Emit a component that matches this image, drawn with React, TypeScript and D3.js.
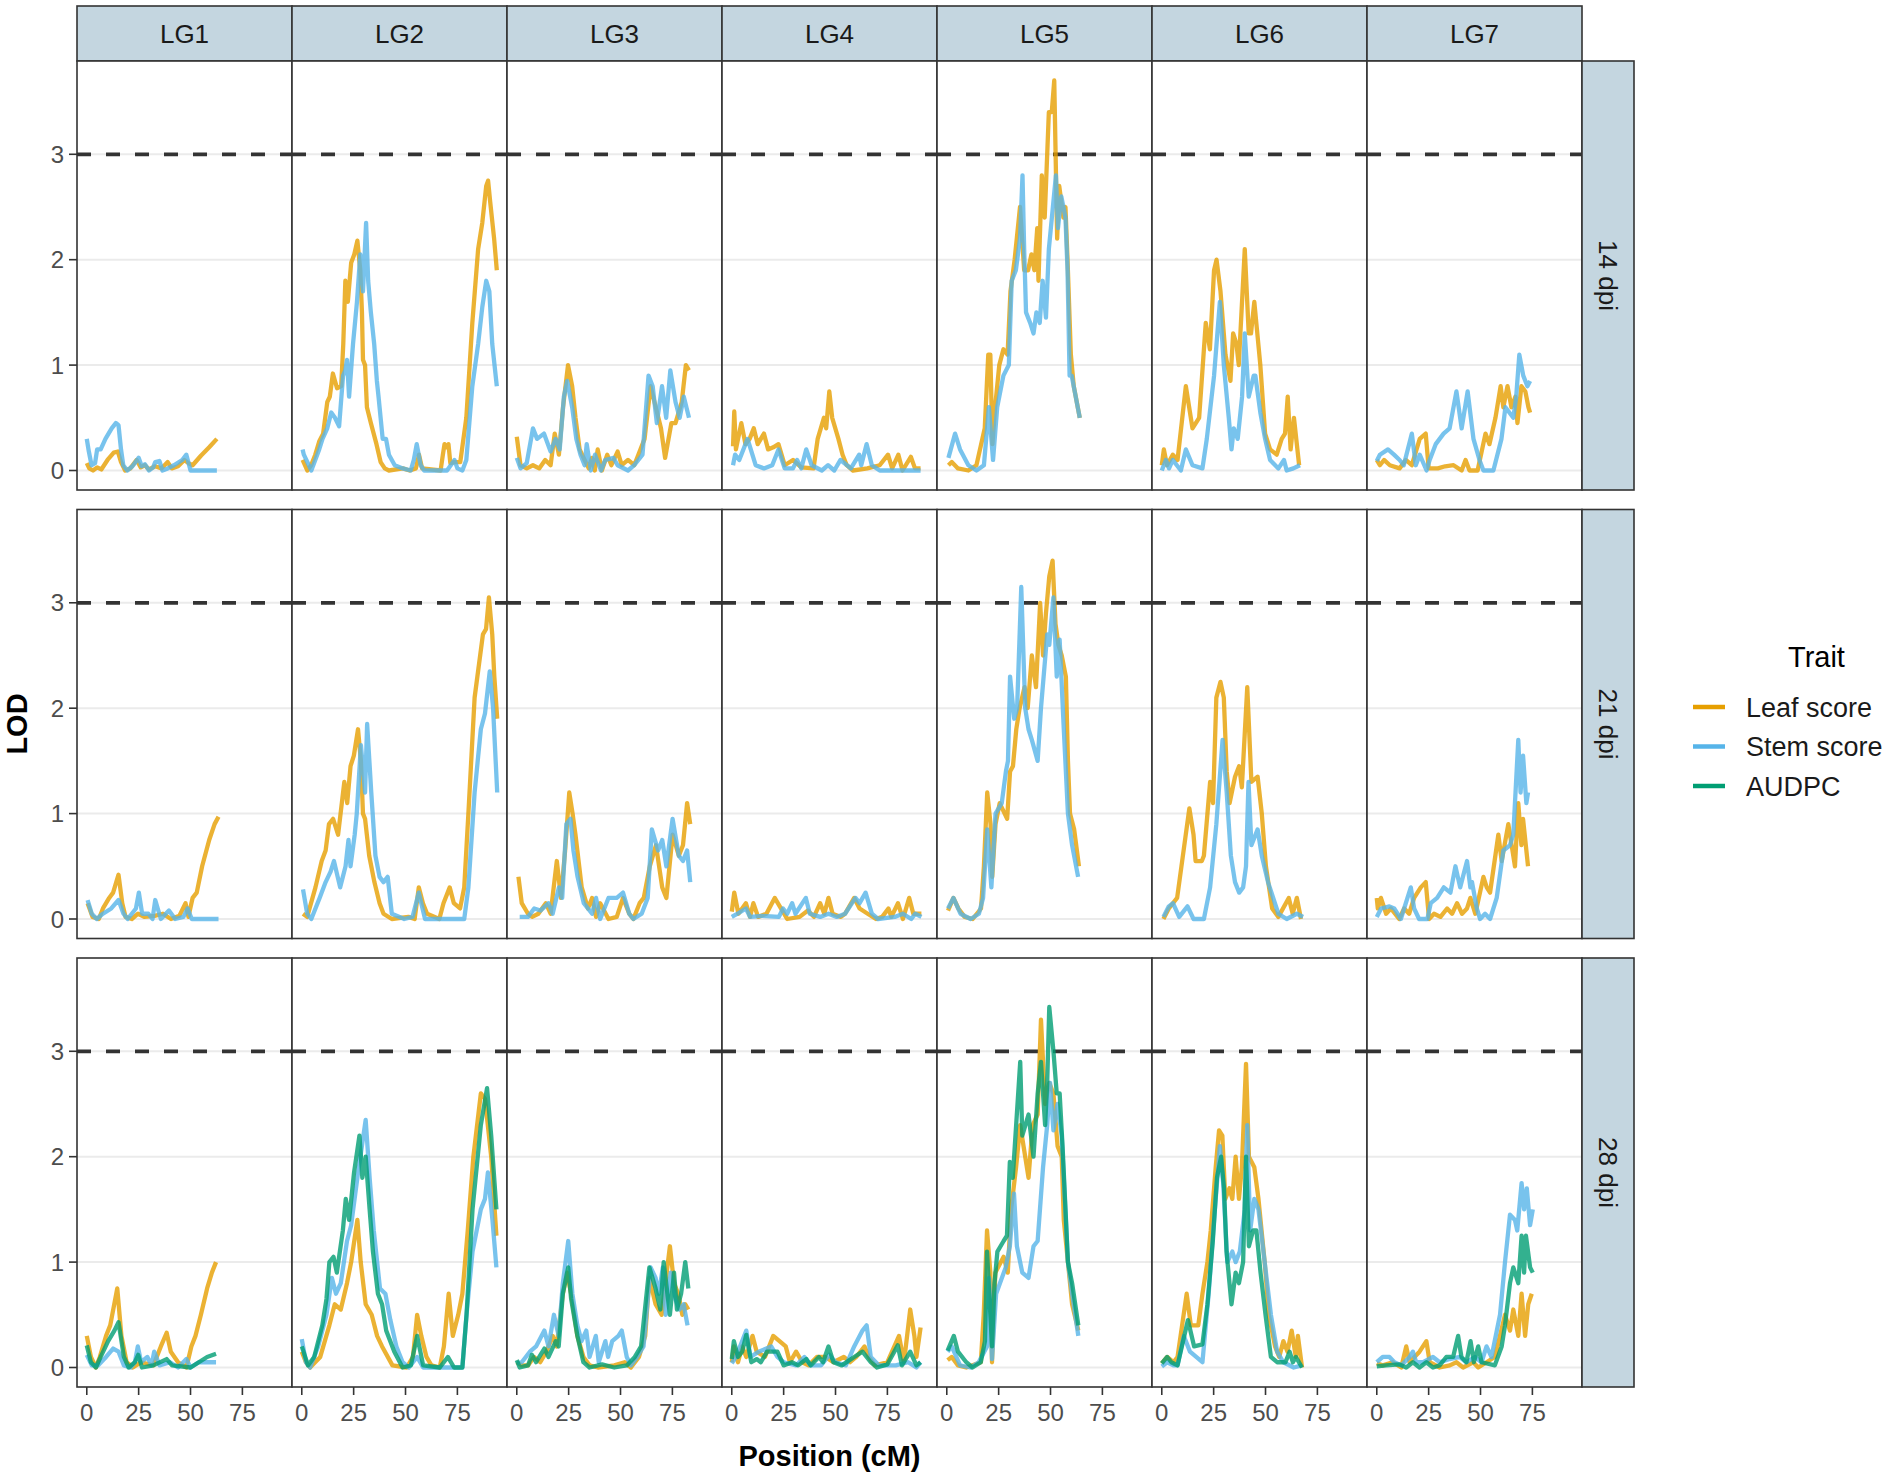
import * as d3 from 'd3';

type Pt = [number, number];

const linkageGroups = ['LG1', 'LG2', 'LG3', 'LG4', 'LG5', 'LG6', 'LG7'];
const timepoints = ['14 dpi', '21 dpi', '28 dpi'];
const traitNames = ['Leaf score', 'Stem score', 'AUDPC'];
const traitColors = ['#E69F00', '#56B4E9', '#009E73'];
const lodBreaks = [0, 1, 2, 3];
const posBreaks = [0, 25, 50, 75];
const lodThreshold = 3;

// LOD profiles, one sub-array per linkage group: [position cM, LOD]
const leaf14: Pt[][] = [
  [[0,0.07],[1.2,0.02],[3,0],[5,0.03],[7,0.01],[10,0.1],[13,0.17],[15,0.18],[16.5,0.08],[18.5,0],[21,0.02],[24,0.1],[26,0.03],[28,0.05],[30,0.01],[33,0.04],[36,0.02],[39,0.08],[41,0.02],[44,0.04],[47,0.1],[49,0.07],[51,0.05],[55,0.14],[59,0.22],[62.7,0.3]],
  [[0.4,0.1],[2.7,0],[4.5,0.05],[6.5,0.15],[8.5,0.28],[10.3,0.35],[12.3,0.65],[13.5,0.7],[15,0.92],[17,0.78],[19,0.8],[20,1.2],[21,1.8],[22.2,1.6],[23.8,1.97],[25.3,2.05],[26.8,2.18],[28.2,1.9],[29,1.5],[29.5,1.05],[30.5,1.0],[31.4,0.6],[33.3,0.45],[36,0.25],[38,0.08],[40,0.02],[42,0],[48.7,0.02],[52,0],[55,0.02],[56.5,0.15],[58,0.02],[66.9,0],[68,0.15],[68.8,0.25],[69.7,0.22],[70.7,0.25],[71.6,0.07],[73.5,0.08],[76.4,0.08],[79.3,0.5],[82.2,1.4],[85,2.1],[87,2.35],[88.9,2.7],[89.8,2.75],[90.8,2.55],[92.7,2.2],[94,1.9]],
  [[0,0.32],[1.8,0.05],[4.8,0.02],[7.8,0.05],[10.8,0.02],[13.7,0.1],[16.3,0.05],[18.3,0.35],[20.3,0.15],[22.3,0.6],[24.7,1.0],[26.7,0.8],[28.3,0.5],[30.3,0.2],[32.7,0.1],[34.7,0.02],[36.2,0.12],[37.6,0],[39,0.2],[41,0],[43.6,0.15],[45.6,0.05],[48.6,0.18],[50.6,0.05],[53.6,0.1],[56.6,0.05],[58.6,0.15],[61.6,0.3],[64.5,0.8],[67,0.6],[69.5,0.4],[71.5,0.12],[74.5,0.45],[76.5,0.45],[79.5,0.65],[81.5,1.0],[83,0.95]],
  [[0.6,0.23],[1.2,0.56],[2,0.2],[4.6,0.45],[6.6,0.25],[8.6,0.3],[10.6,0.4],[12.5,0.25],[15.5,0.35],[17.5,0.2],[20,0.22],[22.5,0.25],[25.5,0.05],[29.5,0.1],[33.5,0.03],[39.4,0.02],[41.4,0.3],[44.4,0.5],[45.5,0.4],[47,0.75],[48.4,0.5],[51.4,0.3],[53.4,0.15],[55.4,0.05],[58.4,0],[65.3,0.02],[71.3,0.05],[75.3,0.15],[77.3,0.02],[80.3,0.15],[82.3,0],[86.3,0.13],[88.3,0.02],[91,0.02]],
  [[0.8,0.05],[2.4,0.08],[5.4,0.02],[10.4,0],[14.3,0.05],[18.3,0.4],[20,1.1],[21,1.1],[22,0.25],[23.3,0.6],[25.3,1.0],[27.3,1.15],[29.3,1.1],[30.7,1.7],[32.7,2.0],[35.3,2.5],[37.3,1.9],[39.2,1.9],[40.8,2.05],[42.2,1.9],[43.6,2.3],[44.2,1.8],[45.8,2.8],[47.2,2.4],[49.2,3.4],[50.6,3.4],[51.8,3.7],[53.2,2.2],[54.2,2.7],[56.2,2.4],[57.2,2.5],[58.2,2.0],[59.8,1.1],[61.2,0.8],[64.1,0.5]],
  [[0,0.05],[1,0.2],[2.5,0.05],[5.3,0.15],[7.6,0.1],[11.6,0.8],[14.8,0.4],[18,0.5],[21.2,1.4],[23.2,1.15],[25.2,1.9],[26.4,2.0],[28.3,1.7],[30.7,1.1],[33.1,0.85],[34.4,1.3],[36,1.2],[37.1,1.0],[40,2.1],[41.9,1.3],[43,1.3],[44.6,1.6],[47.5,1.0],[49.8,0.35],[52.2,0.2],[55.4,0.15],[57.8,0.3],[59.4,0.35],[60.7,0.7],[62.1,0.2],[63.7,0.5],[66.2,0.05]],
  [[0,0.1],[1.5,0.05],[3.5,0.1],[6.3,0.05],[11,0.02],[14,0.1],[16.9,0.05],[20.7,0.3],[23.6,0.35],[25,0.02],[29.4,0.02],[33,0.04],[37,0.05],[40.9,0],[42.8,0.1],[44.7,0],[48.6,0],[52.4,0.35],[54.3,0.25],[57.2,0.5],[59.7,0.8],[61,0.6],[63,0.8],[64.9,0.6],[66.8,0.7],[67.8,0.45],[69.7,0.8],[71.6,0.75],[73.1,0.6],[73.9,0.55]],
];

const stem14: Pt[][] = [
  [[0,0.3],[1,0.18],[2.3,0.05],[4,0.07],[5,0.2],[6.7,0.2],[9,0.3],[12,0.4],[14,0.45],[15.3,0.43],[16.5,0.2],[17.6,0.05],[19.5,0],[22,0.04],[25,0.12],[26.5,0.04],[28,0.06],[30,0],[32,0.03],[33,0.08],[35,0.09],[36.5,0],[39,0.02],[42,0.05],[46,0.1],[48,0.15],[50,0],[55,0],[62.7,0]],
  [[0.4,0.2],[1,0.15],[4.6,0],[8.4,0.2],[10,0.3],[12.3,0.4],[14.2,0.55],[16,0.5],[18,0.42],[19.9,0.9],[21,0.95],[21.8,1.05],[22.8,0.7],[24.7,1.2],[26.6,1.6],[28.2,2.05],[29.5,1.7],[31,2.35],[32,1.8],[33.3,1.5],[34.9,1.2],[36.2,0.85],[37,0.7],[39,0.3],[40.6,0.3],[42,0.15],[44.8,0.05],[48.7,0.02],[52.5,0],[54,0.1],[55.4,0.25],[57.3,0.05],[59,0],[70,0],[73.6,0.1],[75,0.02],[77.4,0],[79.3,0.1],[82.2,0.8],[85,1.2],[87,1.55],[88.9,1.8],[90.4,1.7],[91.8,1.2],[94,0.8]],
  [[0,0.12],[1.8,0.02],[4.8,0.07],[7.8,0.4],[9.8,0.3],[13.1,0.35],[16.3,0.18],[18.7,0.3],[20.7,0.2],[22.7,0.7],[24.3,0.85],[26.7,0.6],[28.7,0.3],[30.7,0.15],[32.7,0.05],[33.7,0.25],[35.7,0],[37.7,0.15],[40.6,0],[42.6,0.1],[46.6,0.12],[48.6,0.05],[53.6,0],[56.6,0.05],[60.6,0.15],[63.5,0.9],[65.5,0.8],[67.5,0.45],[70,0.8],[72,0.5],[74,0.95],[76.5,0.65],[78.5,0.5],[80.5,0.7],[83,0.5]],
  [[0.6,0.05],[1.6,0.15],[3.6,0.1],[7.6,0.3],[11.5,0.05],[15.5,0.02],[19.5,0.05],[22.5,0.2],[25.5,0.02],[29.5,0.02],[31.5,0.1],[33.5,0.02],[35.9,0.2],[38.5,0.05],[43.4,0],[46.4,0.05],[49.4,0],[52.4,0.1],[57.4,0.02],[61.4,0.15],[62.4,0.05],[65,0.25],[67.5,0.05],[71.3,0],[91,0]],
  [[0.8,0.12],[4,0.35],[6.4,0.2],[10.4,0.05],[14.3,0],[17.9,0.05],[20.3,0.6],[22.3,0.1],[24.3,0.6],[27.3,0.9],[29.9,1.0],[31.3,1.8],[33.3,1.9],[35.3,2.2],[36.5,2.8],[37.3,2.1],[38.2,1.5],[40.2,1.4],[41.8,1.3],[43.2,1.5],[44.8,1.4],[46.2,1.8],[47.8,1.45],[49.2,2.1],[52.6,2.8],[53.6,2.3],[55.2,2.6],[57.2,2.4],[58.2,1.9],[59.2,0.9],[60.2,0.9],[64.1,0.5]],
  [[0,0],[2,0.1],[3.5,0.02],[5.3,0.1],[9.2,0],[11.6,0.2],[14.8,0.05],[19.6,0.02],[21.7,0.3],[25.2,0.9],[26.8,1.3],[28,1.6],[29.9,1.0],[32.3,0.5],[33.6,0.2],[34.7,0.4],[36.6,0.3],[38.7,0.7],[40,1.3],[41.9,0.7],[44.3,0.9],[45.1,0.9],[47.5,0.55],[49.8,0.3],[52.2,0.1],[56.2,0.02],[58.9,0.1],[60.2,0],[63.4,0.02],[66.6,0.05]],
  [[0,0.09],[1.5,0.15],[5.4,0.2],[8.3,0.15],[11,0.1],[13,0.05],[16.9,0.35],[18.8,0.05],[20.7,0.15],[24,0],[25.5,0.1],[28.4,0.25],[32.2,0.35],[35.1,0.4],[38.4,0.75],[40.9,0.4],[43.8,0.75],[46.6,0.3],[49.5,0.1],[51.4,0],[56.2,0],[60.1,0.3],[62,0.6],[65.8,0.5],[67.2,0.7],[68.7,1.1],[70.6,0.9],[72.6,0.8],[73.9,0.85]],
];

const leaf21: Pt[][] = [
  [[0.4,0.15],[2.8,0.02],[5.8,0],[7.8,0.1],[10.8,0.2],[12.7,0.25],[15.3,0.42],[17.1,0.15],[18.7,0.02],[21.7,0],[24.7,0.05],[27.7,0.02],[32.7,0.03],[36.7,0.05],[40.6,0],[44.6,0.03],[47.6,0.15],[49,0.02],[51,0.2],[53,0.25],[55.6,0.5],[59,0.75],[61.6,0.9],[63.5,0.97]],
  [[0.6,0.05],[2.6,0.02],[6.6,0.3],[9.6,0.55],[11.5,0.65],[13.1,0.9],[15.1,0.95],[17.5,0.8],[20.5,1.3],[21.9,1.1],[23.5,1.45],[25.1,1.55],[27.1,1.8],[28.5,1.5],[29.5,1.0],[30.5,0.95],[32.5,0.6],[35,0.35],[37.5,0.15],[39.4,0.05],[43.4,0],[51.4,0.02],[54.4,0],[56.4,0.3],[58.4,0.15],[60.4,0.05],[66.3,0],[68.3,0.15],[71.3,0.3],[73.3,0.15],[76.3,0.1],[78.3,0.3],[80.3,1.0],[83.3,2.1],[87.3,2.7],[88.8,2.75],[90.2,3.05],[91.8,2.7],[92.8,2.3],[94.2,1.9]],
  [[0.8,0.4],[2.4,0.15],[5.4,0.05],[7.4,0.02],[10.4,0.05],[14,0.15],[16.3,0.05],[19.3,0.55],[21.3,0.2],[23.3,0.65],[25.3,1.2],[26.9,1.0],[28.3,0.8],[31.3,0.3],[34.3,0.1],[36.3,0.2],[38.2,0.02],[40.2,0.15],[44.2,0],[48.2,0.02],[51.2,0.2],[54.2,0.05],[56.2,0],[59.2,0.15],[61.2,0.2],[64.1,0.5],[67.1,0.7],[70.1,0.3],[72.1,0.2],[75.1,0.8],[78.1,0.6],[80.1,0.7],[82.1,1.1],[83.6,0.9]],
  [[0,0.07],[1.2,0.25],[3.2,0.05],[6.8,0.15],[8.8,0.02],[10.4,0.15],[12.7,0.02],[16.7,0.05],[20.7,0.2],[23.7,0.1],[26.7,0],[32.7,0.02],[36.7,0.08],[39.6,0.02],[42.6,0.15],[44.6,0.05],[46.6,0.2],[48.6,0.05],[52.6,0.02],[54.6,0.05],[59,0.2],[61.6,0.1],[65.5,0.05],[69.5,0],[72.5,0.02],[75.5,0.1],[76.9,0.02],[80.1,0.15],[82.5,0],[85.5,0.2],[87.5,0.05],[91.4,0.05]],
  [[0.6,0.08],[3.2,0.2],[5.6,0.1],[8.6,0.02],[12.5,0],[16.5,0.1],[17.9,0.5],[19.5,1.2],[21.1,0.9],[21.9,0.4],[23.5,0.9],[25.5,1.1],[29.1,0.95],[30.5,1.4],[31.9,1.45],[33.5,1.8],[35.1,2.0],[37.5,2.2],[39,2.0],[41,2.5],[43,2.2],[45,3.0],[46.4,2.5],[47.8,2.9],[49.4,3.25],[51,3.4],[52.4,2.8],[53.8,2.6],[55.4,2.5],[57.4,2.3],[58.4,1.5],[59.4,1.0],[61.4,0.85],[63.7,0.5]],
  [[0.8,0],[3.4,0.1],[7.4,0.2],[13.3,1.05],[15.3,0.8],[16.3,0.55],[19.3,0.55],[20.3,0.6],[23.3,1.3],[24.7,1.1],[26.3,2.1],[28.3,2.25],[29.9,2.1],[31.3,1.4],[32.7,1.1],[35.3,1.35],[37.3,1.45],[38.6,1.25],[41.2,2.2],[43.2,1.3],[46.2,1.35],[48.2,1.0],[50.2,0.5],[53.2,0.1],[56.2,0.02],[61.2,0.2],[63.1,0.05],[65.1,0.2],[67.1,0]],
  [[0,0.2],[0.5,0.1],[2,0.2],[4.5,0.05],[6.8,0.1],[10.8,0],[13.2,0.1],[15.6,0.05],[18,0.2],[21.2,0.3],[23.6,0.35],[25.2,0],[27.6,0.05],[30.7,0.02],[33.9,0.1],[36.3,0.05],[38.7,0.15],[41.1,0.05],[43.5,0.1],[45.1,0.2],[47.5,0.05],[51.4,0.4],[53,0.3],[54.6,0.25],[58.6,0.8],[60.2,0.55],[63.4,0.9],[65,0.7],[66.6,0.5],[68.2,1.1],[69.7,0.7],[70.5,0.95],[72.9,0.5]],
];

const stem21: Pt[][] = [
  [[0.4,0.18],[2.4,0.05],[4.8,0],[7.8,0.05],[11.8,0.1],[15.3,0.18],[17.7,0.05],[19.7,0],[23.7,0.1],[25.1,0.25],[26.7,0.05],[29.7,0.05],[31.7,0],[33,0.18],[35.7,0],[39.6,0.08],[42.6,0],[46.6,0.02],[48.6,0.1],[50.6,0],[63.5,0]],
  [[0.6,0.28],[2.6,0.05],[4.6,0],[8.6,0.2],[11.5,0.35],[13.9,0.45],[15.5,0.55],[18.5,0.3],[21.1,0.5],[22.5,0.75],[23.5,0.5],[25.5,0.8],[26.5,1.0],[28.5,1.65],[30.5,1.2],[31.5,1.85],[33.5,1.2],[35.5,0.6],[37.5,0.4],[39.4,0.35],[41.4,0.4],[43.4,0.05],[49.4,0],[53.4,0.02],[56.4,0.25],[59.4,0],[78.3,0],[80.3,0.3],[83.3,1.2],[86.3,1.8],[88.3,1.95],[90.6,2.35],[92.2,2.0],[94.2,1.2]],
  [[1.4,0.02],[5.4,0.02],[8.4,0.1],[11.4,0.08],[15.3,0.15],[17.3,0.05],[20.3,0.3],[21.9,0.2],[23.9,0.9],[25.9,0.95],[27.3,0.65],[29.3,0.4],[32.3,0.15],[36.3,0.05],[38.2,0.2],[40.2,0],[44.2,0.2],[48.2,0.2],[51.2,0.25],[54.2,0.05],[56.2,0],[60.2,0.05],[63.1,0.2],[65.1,0.85],[68.1,0.65],[70.1,0.75],[72.1,0.5],[75.1,0.95],[78.1,0.6],[80.1,0.55],[82.1,0.65],[83.6,0.35]],
  [[0,0.02],[2.8,0.05],[6.8,0.1],[8.8,0.02],[14.7,0.03],[22.7,0.02],[24.7,0.1],[26.7,0.05],[29.1,0.15],[30.7,0.05],[35.7,0.2],[37.6,0.05],[42.6,0.02],[46.6,0.05],[50.6,0.02],[54.6,0.05],[59.6,0.2],[61.6,0.15],[64.5,0.25],[67.5,0.05],[70.5,0],[78.5,0.02],[82.5,0.05],[86.5,0],[88.4,0.05],[91.4,0.02]],
  [[0.6,0.1],[3.2,0.2],[6.6,0.05],[11.5,0],[15.5,0.05],[17.5,0.2],[19.5,0.85],[21.5,0.3],[23.5,1.0],[26.5,1.1],[28.5,1.4],[29.5,1.5],[30.5,2.3],[32.5,1.9],[33.9,2.0],[35.9,3.15],[37.8,2.0],[39.4,1.8],[41,1.7],[43.8,1.5],[45.4,2.0],[48.4,2.7],[49.4,2.6],[51.4,3.05],[53,2.3],[54.4,2.65],[56.4,1.8],[58.4,1.0],[60.4,0.7],[63.3,0.4]],
  [[0.8,0.02],[3.4,0.12],[5.4,0.15],[8.4,0.02],[12.4,0.12],[15.3,0],[20.3,0],[23.3,0.3],[26.3,0.9],[29.3,1.7],[31.3,1.2],[33.3,0.6],[35.3,0.35],[37.3,0.25],[39.2,0.3],[40.6,0.5],[41.8,1.3],[43.2,0.7],[46.2,0.85],[48.2,0.6],[51.2,0.35],[56.2,0.05],[60.2,0],[65.1,0.05],[68.1,0.02]],
  [[0,0.02],[2.1,0.1],[6.1,0.12],[8.4,0.1],[11.6,0],[14.8,0.2],[16.4,0.3],[18,0.1],[20.4,0],[24.4,0],[26,0.15],[29.1,0.2],[32.3,0.3],[35.5,0.25],[37.9,0.5],[40.2,0.3],[43.5,0.55],[45.1,0.3],[45.9,0.35],[48.2,0.1],[49.8,0],[52.2,0.05],[54.6,0],[57.8,0.2],[61,0.65],[64.2,0.7],[65.8,0.8],[68.2,1.7],[69.3,1.2],[70.5,1.55],[72.1,1.1],[72.9,1.2]],
];

const leaf28: Pt[][] = [
  [[0,0.3],[2,0.1],[4.4,0],[6.3,0.1],[9.3,0.3],[11.3,0.4],[14.7,0.75],[16.7,0.3],[19.2,0.05],[22.2,0],[26.2,0.05],[32.1,0.02],[35.7,0.2],[38.5,0.33],[40.5,0.15],[44,0.05],[48,0],[50.4,0.2],[52.4,0.3],[55,0.5],[58,0.75],[60.3,0.9],[62.3,1.0]],
  [[0,0.15],[2,0.05],[4,0],[8.9,0.1],[13.3,0.4],[15.9,0.6],[18.8,0.55],[21.8,0.8],[23.8,1.0],[26.8,1.4],[28.4,1.0],[30.8,0.6],[33.7,0.5],[36.3,0.3],[38.7,0.2],[43.7,0.02],[50.6,0],[53.6,0.1],[55.6,0.5],[57.6,0.3],[60.1,0.1],[62.5,0.02],[66.5,0],[68.5,0.2],[70.8,0.7],[72.8,0.3],[75.4,0.5],[77.4,0.7],[80,1.3],[82.7,2.0],[86.3,2.6],[88.3,2.55],[91.3,2.0],[93.8,1.25]],
  [[0,0.05],[2.4,0.02],[5.4,0.02],[8.3,0.1],[11.3,0.05],[14.3,0.15],[17.3,0.3],[19.2,0.2],[22.2,0.7],[24.2,0.9],[26.2,0.7],[29.2,0.3],[32.1,0.1],[35.1,0.02],[39.1,0],[47,0.02],[52,0.05],[55,0],[58.9,0.1],[61.9,0.3],[63.9,0.85],[66.9,0.6],[69.8,0.5],[73.8,1.15],[75.8,0.8],[77.8,0.7],[79.8,0.5],[81.2,0.6],[82.7,0.55]],
  [[0,0.05],[1,0.2],[3,0.05],[5,0.2],[7,0.1],[10,0.3],[12,0.15],[16,0.1],[20,0.3],[23,0.25],[26,0.2],[28,0.05],[31,0.15],[34,0.05],[37,0.02],[41,0.1],[45,0.1],[49,0.05],[54,0.1],[57,0.05],[60,0.1],[64,0.2],[66,0.1],[69,0.02],[75,0.05],[80.6,0.3],[83,0.05],[86,0.55],[88,0.3],[89,0.1],[91,0.38]],
  [[0.4,0.07],[2.4,0.1],[5.4,0.02],[9.4,0],[16.4,0.05],[17.8,0.5],[19.4,1.3],[21,0.9],[21.8,0.05],[23.4,0.9],[27.4,1.05],[29.4,0.9],[31,1.5],[33.4,1.9],[35.4,2.3],[37.4,2.05],[39.4,1.8],[41.4,2.3],[43.8,2.4],[45.4,3.3],[47.4,2.5],[49.4,2.7],[51.4,2.6],[53.4,2.1],[55.4,2.0],[56.4,1.4],[58.4,1.0],[60.4,0.6],[63.4,0.35]],
  [[0,0.04],[2.6,0.1],[5.6,0.05],[7.6,0.1],[12,0.7],[14,0.4],[17.6,0.4],[19.6,0.7],[22,1.0],[23.6,1.3],[26,1.9],[27.6,2.25],[29.2,2.2],[30.6,1.6],[32.6,1.7],[34,1.6],[35.6,2.0],[37.2,1.6],[38.6,1.9],[40.6,2.88],[42,2.0],[44.6,1.9],[46.6,1.6],[49.6,1.0],[51.6,0.5],[54.6,0.2],[56.6,0.1],[58.6,0.25],[60.6,0.15],[62.6,0.35],[64.6,0.1],[65.6,0.3],[67.6,0]],
  [[0,0.04],[2.9,0.02],[7.7,0.05],[11.8,0],[14.2,0.2],[15.8,0.05],[18.2,0.1],[20.6,0.15],[23.9,0.25],[25.5,0.05],[30.3,0],[35.2,0.02],[38.4,0.05],[41.6,0],[46.5,0.05],[48.9,0],[52.9,0.05],[56.9,0.1],[59.4,0.3],[61.8,0.5],[64.2,0.35],[65.8,0.55],[68.2,0.3],[69.8,0.7],[71.5,0.3],[73,0.6],[74.7,0.7]],
];

const stem28: Pt[][] = [
  [[0,0.12],[2.4,0.02],[5.4,0.02],[9.3,0.1],[12.7,0.18],[15.3,0.15],[17.9,0.02],[21.2,0],[23.2,0.05],[24.6,0.2],[26.2,0.05],[29.2,0.1],[31.2,0.02],[32.5,0.15],[35.1,0.02],[40.1,0.05],[44,0],[48,0.08],[50,0],[54,0.05],[62.3,0.05]],
  [[0,0.27],[2,0.05],[4,0],[7.9,0.2],[11.9,0.5],[14.5,0.85],[16.5,0.7],[18.8,0.8],[21.8,1.2],[23.8,1.35],[26.8,1.8],[30.8,2.35],[32.7,1.8],[34.7,1.3],[37.7,0.75],[40.3,0.7],[42.7,0.45],[45.6,0.2],[48.6,0.05],[51.6,0],[55.6,0.1],[58.5,0],[77.4,0],[79.4,0.5],[82.3,1.1],[86.3,1.5],[88.3,1.6],[89.7,1.85],[91.9,1.4],[93.8,0.95]],
  [[0,0.04],[2.4,0.05],[6.3,0.15],[9.3,0.2],[13.3,0.35],[15.3,0.2],[17.9,0.5],[20.2,0.3],[22.2,0.8],[24.8,1.2],[26.8,0.7],[29.2,0.4],[31.2,0.25],[33.5,0.35],[35.1,0.1],[38.1,0.3],[39.5,0.05],[42.7,0.25],[44,0.1],[46,0.25],[49,0.3],[50.6,0.35],[53,0.1],[55,0.02],[58,0.1],[61.1,0.2],[64.5,0.95],[66.9,0.85],[68.5,0.7],[70.4,0.95],[71.8,0.5],[74.2,0.9],[76.4,0.65],[78.4,0.55],[80.4,0.6],[82.3,0.4]],
  [[0,0.04],[2,0.1],[7,0.35],[9,0.1],[13,0.15],[19,0.2],[22,0.1],[25,0.05],[31,0.02],[35,0.1],[38,0.02],[43,0.02],[47,0.12],[50,0.05],[55,0.02],[59,0.2],[63,0.35],[65,0.4],[67,0.1],[71,0.02],[79,0.02],[85,0.05],[89,0],[91,0.05]],
  [[0.4,0.15],[2.4,0.2],[6.4,0.02],[11.4,0],[15.4,0.05],[19.4,0.2],[20.4,0.85],[21.8,0.08],[23.8,0.7],[28.4,0.95],[30.4,1.15],[32.4,1.65],[33.8,1.15],[36.4,0.9],[39.4,0.85],[41.8,1.15],[43.8,1.2],[46.4,1.9],[48.4,2.3],[49.8,2.7],[51.4,2.25],[53.4,2.5],[55.4,2.2],[57.4,1.4],[58.4,1.0],[60.4,0.7],[63.4,0.3]],
  [[0,0.01],[2.6,0.05],[5.6,0.02],[7.6,0.02],[10.6,0.3],[13.6,0.15],[19.6,0.05],[22.6,0.7],[25.6,1.5],[28,2.1],[29.6,1.75],[31.6,1.0],[34,1.1],[35.6,1.0],[37.6,1.1],[40,1.5],[41.2,2.3],[42.6,1.3],[44.6,1.6],[46.6,1.5],[49.6,1.0],[52.6,0.5],[55.6,0.15],[58.6,0.05],[63.6,0],[67.6,0.02]],
  [[0,0.05],[2.9,0.1],[6.1,0.1],[8.5,0.05],[11.8,0.02],[15.8,0.1],[17.4,0.15],[19,0.05],[22.3,0.05],[27.1,0.1],[30.3,0.05],[35.2,0.08],[40,0.1],[43.2,0.05],[47.3,0.1],[50.5,0.05],[52.9,0.2],[55.3,0.1],[59.4,0.5],[61.8,1.0],[64.2,1.45],[66.6,1.4],[67.7,1.3],[69.8,1.75],[71,1.5],[72.3,1.7],[73.9,1.35],[75.2,1.5]],
];

const audpc28: Pt[][] = [
  [[0,0.21],[2,0.05],[4.4,0],[6.7,0.1],[10.3,0.25],[13.3,0.35],[15.3,0.43],[17.9,0.1],[20.2,0],[23.2,0.05],[24.8,0.12],[26.6,0],[32.1,0.02],[38.5,0.08],[41.1,0.02],[50,0],[54,0.05],[58,0.1],[62.3,0.13]],
  [[0,0.2],[3,0.02],[6,0.1],[9.9,0.4],[11.9,0.65],[13.3,1.0],[15.3,1.05],[16.9,0.9],[19.8,1.3],[21.2,1.6],[22.8,1.4],[25.2,1.85],[27.8,2.2],[29.2,1.8],[30.8,2.0],[32.7,1.5],[34.3,1.1],[36.7,0.7],[38.7,0.6],[40.7,0.35],[44.6,0.15],[48.6,0],[52.6,0.02],[55.6,0.3],[58.5,0.02],[66.5,0],[70.4,0.1],[73.4,0],[77.4,0],[79.4,0.5],[82.3,1.5],[86.3,2.3],[89.3,2.65],[91.3,2.2],[93.8,1.5]],
  [[0,0.07],[1.4,0],[5.4,0.02],[7.3,0.12],[9.3,0.05],[13.3,0.18],[15.3,0.1],[18.8,0.25],[20.2,0.2],[22.2,0.7],[24.8,0.95],[26.2,0.65],[29.2,0.3],[32.1,0.05],[35.1,0],[41.1,0.03],[47,0],[53,0.02],[56.9,0.1],[59.9,0.2],[63.9,0.95],[66.9,0.75],[69.2,0.55],[70.8,1.0],[73.8,0.5],[75.8,0.9],[77.2,0.55],[79.2,0.7],[81.2,1.0],[82.7,0.75]],
  [[0,0.08],[1,0.25],[3,0.1],[5,0.15],[7,0.31],[9.4,0.05],[12,0.08],[14,0.05],[17,0.15],[22,0.15],[25,0.02],[29,0.05],[32,0.02],[36,0.08],[38,0.02],[42,0.1],[44,0.05],[46.6,0.2],[49,0.05],[53,0.02],[59,0.1],[63,0.15],[67,0.05],[70,0],[75,0.03],[80,0.21],[82,0.02],[86,0.15],[89,0.02],[91,0.05]],
  [[0.4,0.16],[3.4,0.3],[5.4,0.15],[9.4,0.05],[12.4,0],[16.4,0.05],[18.4,0.25],[19.4,1.1],[21.8,0.2],[23,0.8],[24.4,1.1],[27.4,1.2],[29,1.25],[30.4,1.95],[31.8,1.8],[35.4,2.9],[36.4,2.2],[39.4,2.4],[41.8,2.0],[43.8,2.6],[45.4,2.9],[47.4,2.3],[48.4,2.7],[49.4,3.42],[51.4,3.0],[53,2.6],[54.4,2.6],[55.8,2.1],[58.4,1.0],[60.4,0.8],[63.4,0.4]],
  [[0,0.04],[2.6,0.1],[4.6,0.05],[7.6,0.02],[12.6,0.45],[15.6,0.2],[19.6,0.22],[22,0.6],[24.6,1.2],[26.6,1.8],[28.6,2.0],[30,1.7],[31.2,1.1],[33.6,0.6],[35.6,0.9],[37.2,0.8],[39.2,1.0],[40.6,2.0],[42,1.15],[44,1.3],[45.6,1.3],[47.6,0.9],[50,0.5],[52.6,0.1],[55.6,0.05],[59.6,0.05],[61.6,0.15],[63.2,0.05],[64.6,0.1],[67.6,0]],
  [[0,0.01],[4.5,0.02],[10.9,0.03],[14.2,0],[17.4,0.05],[20.6,0],[23.9,0.05],[27.1,0],[30.3,0.02],[33.5,0.1],[36.8,0.1],[39.2,0.3],[40.8,0.1],[43.2,0.05],[45.2,0.25],[46.8,0.05],[48.9,0.2],[50.5,0.05],[56.9,0.02],[60.2,0.2],[61.8,0.4],[64.2,0.8],[65.8,0.95],[68.2,0.8],[69.8,1.25],[71,0.9],[71.9,1.25],[73.9,0.95],[75.2,0.9]],
];

const series = [
  { time: '14 dpi', trait: 'Leaf score', byGroup: leaf14 },
  { time: '14 dpi', trait: 'Stem score', byGroup: stem14 },
  { time: '21 dpi', trait: 'Leaf score', byGroup: leaf21 },
  { time: '21 dpi', trait: 'Stem score', byGroup: stem21 },
  { time: '28 dpi', trait: 'Leaf score', byGroup: leaf28 },
  { time: '28 dpi', trait: 'Stem score', byGroup: stem28 },
  { time: '28 dpi', trait: 'AUDPC', byGroup: audpc28 },
];

const W = 1890;
const H = 1475;
const left = 77;
const top = 61;
const panelW = 215;
const panelH = 429;
const rowGap = 19.5;
const stripH = 55;
const sideStripW = 52;
const font = '"Liberation Sans", Arial, Helvetica, sans-serif';
const ink = '#333333';

export default function App() {
  const allPts = series.flatMap((s) => s.byGroup.flat());
  const [xMin, xMax] = d3.extent(allPts, (p) => p[0]) as [number, number];
  const [yMin, yMax] = d3.extent(allPts, (p) => p[1]) as [number, number];
  const xPad = (xMax - xMin) * 0.05;
  const yPad = (yMax - yMin) * 0.05;

  const x = d3.scaleLinear().domain([xMin - xPad, xMax + xPad]).range([0, panelW]);
  const y = d3.scaleLinear().domain([yMin - yPad, yMax + yPad]).range([panelH, 0]);
  const color = d3.scaleOrdinal<string, string>().domain(traitNames).range(traitColors);
  const line = d3.line<Pt>().x((d) => x(d[0])).y((d) => y(d[1]));

  const rowTop = (r: number) => top + r * (panelH + rowGap);
  const colLeft = (c: number) => left + c * panelW;
  const bottom = rowTop(timepoints.length - 1) + panelH;
  const plotRight = colLeft(linkageGroups.length);

  return (
    <div>
      <style>{'body{margin:0}'}</style>
      <svg width={W} height={H} viewBox={`0 0 ${W} ${H}`} style={{ display: 'block', fontFamily: font }}>
        <rect width={W} height={H} fill="#fff" />

        {/* column strips */}
        {linkageGroups.map((g, c) => (
          <g key={g} transform={`translate(${colLeft(c)},${top - stripH})`}>
            <rect width={panelW} height={stripH} fill="#C4D6E0" stroke={ink} strokeWidth={1.6} />
            <text x={panelW / 2} y={stripH / 2} dy="0.36em" textAnchor="middle" fontSize={26} fill="#1A1A1A">
              {g}
            </text>
          </g>
        ))}

        {timepoints.map((t, r) => (
          <g key={t} transform={`translate(0,${rowTop(r)})`}>
            {linkageGroups.map((g, c) => (
              <g key={g} transform={`translate(${colLeft(c)},0)`}>
                <rect width={panelW} height={panelH} fill="#fff" />
                {lodBreaks.map((b) => (
                  <line key={b} x1={0} x2={panelW} y1={y(b)} y2={y(b)} stroke="#EBEBEB" strokeWidth={2} />
                ))}
                <line
                  x1={0}
                  x2={panelW}
                  y1={y(lodThreshold)}
                  y2={y(lodThreshold)}
                  stroke={ink}
                  strokeWidth={3.8}
                  strokeDasharray="14 15"
                />
                {series
                  .filter((s) => s.time === t)
                  .map((s) => (
                    <path
                      key={s.trait}
                      d={line(s.byGroup[c]) ?? ''}
                      fill="none"
                      stroke={color(s.trait)}
                      strokeOpacity={0.8}
                      strokeWidth={4.3}
                      strokeLinejoin="round"
                      strokeLinecap="butt"
                    />
                  ))}
                <rect width={panelW} height={panelH} fill="none" stroke={ink} strokeWidth={1.6} />
              </g>
            ))}

            {/* row strip */}
            <g transform={`translate(${plotRight},0)`}>
              <rect width={sideStripW} height={panelH} fill="#C4D6E0" stroke={ink} strokeWidth={1.6} />
              <text
                transform={`translate(${sideStripW / 2},${panelH / 2}) rotate(90)`}
                dy="0.36em"
                textAnchor="middle"
                fontSize={26}
                fill="#1A1A1A"
              >
                {t}
              </text>
            </g>

            {/* y axis */}
            {lodBreaks.map((b) => (
              <g key={b} transform={`translate(${left},${y(b)})`}>
                <line x1={-8} x2={0} stroke={ink} strokeWidth={1.6} />
                <text x={-13} dy="0.36em" textAnchor="end" fontSize={24} fill="#4D4D4D">
                  {b}
                </text>
              </g>
            ))}
          </g>
        ))}

        {/* x axis */}
        {linkageGroups.map((g, c) =>
          posBreaks.map((b) => (
            <g key={`${g}-${b}`} transform={`translate(${colLeft(c) + x(b)},${bottom})`}>
              <line y1={0} y2={8} stroke={ink} strokeWidth={1.6} />
              <text y={34} textAnchor="middle" fontSize={24} fill="#4D4D4D">
                {b}
              </text>
            </g>
          ))
        )}

        <text
          x={(left + plotRight) / 2}
          y={1466}
          textAnchor="middle"
          fontSize={29}
          fontWeight="bold"
          fill="#000"
        >
          Position (cM)
        </text>
        <text
          transform={`translate(27,${(top + bottom) / 2}) rotate(-90)`}
          textAnchor="middle"
          fontSize={29}
          fontWeight="bold"
          fill="#000"
        >
          LOD
        </text>

        {/* legend */}
        <g transform="translate(1693,0)">
          <text x={95} y={667} fontSize={29} fill="#000">
            Trait
          </text>
          {traitNames.map((n, i) => (
            <g key={n} transform={`translate(0,${707 + i * 39.5})`}>
              <line x1={0} x2={32} stroke={color(n)} strokeWidth={4.5} />
              <text x={53} dy="0.36em" fontSize={27} fill="#1A1A1A">
                {n}
              </text>
            </g>
          ))}
        </g>
      </svg>
    </div>
  );
}
